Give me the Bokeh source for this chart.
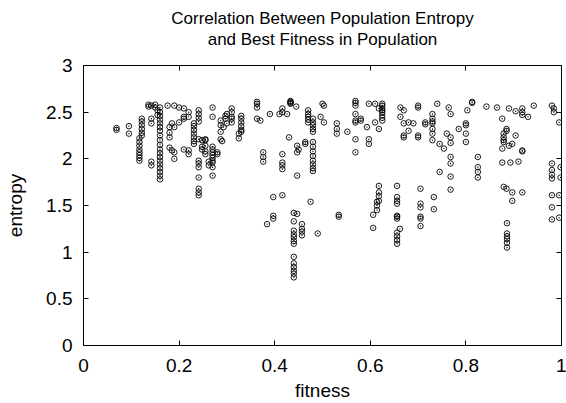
from bokeh.plotting import figure
from bokeh.models import LinearAxis, FixedTicker, Range1d, Title
from bokeh.embed import file_html
from bokeh.resources import INLINE

# fitness value of each vertical group of points, and the entropies observed there
fitness_groups = [
    0.069, 0.095, 0.117, 0.122, 0.136, 0.142, 0.150, 0.155, 0.160, 0.176,
    0.180, 0.185, 0.190, 0.200, 0.210, 0.220, 0.231, 0.241, 0.248, 0.255,
    0.262, 0.270, 0.280, 0.287, 0.290, 0.293, 0.297, 0.300, 0.310, 0.325,
    0.330, 0.363, 0.370, 0.376, 0.384, 0.390, 0.397, 0.410, 0.416, 0.426,
    0.430, 0.433, 0.440, 0.445, 0.447, 0.450, 0.457, 0.464, 0.470, 0.475,
    0.480, 0.490, 0.496, 0.500, 0.503, 0.530, 0.534, 0.552, 0.569, 0.580,
    0.593, 0.597, 0.606, 0.610, 0.614, 0.618, 0.625, 0.656, 0.662, 0.663,
    0.670, 0.680, 0.690, 0.700, 0.705, 0.715, 0.730, 0.733, 0.740, 0.745,
    0.754, 0.760, 0.764, 0.768, 0.785, 0.800, 0.803, 0.813, 0.825, 0.843,
    0.865, 0.876, 0.879, 0.885, 0.886, 0.890, 0.893, 0.897, 0.904, 0.910,
    0.918, 0.930, 0.942, 0.980, 0.984, 0.995, 0.998,
]
entropy_groups = [
    [2.33, 2.31],
    [2.35, 2.27],
    [2.22, 2.18, 2.14, 2.10, 2.07, 2.04, 2.01, 1.98],
    [2.43, 2.40, 2.36, 2.32, 2.28, 2.25],
    [2.58, 2.56],
    [2.57, 2.43, 2.38, 1.97, 1.93],
    [2.58, 2.55],
    [2.52, 2.47],
    [2.55, 2.50, 2.46, 2.42, 2.38, 2.34, 2.30, 2.25, 2.20, 2.15, 2.10, 2.06,
     2.02, 1.98, 1.94, 1.90, 1.86, 1.82, 1.78],
    [2.57],
    [2.34, 2.28, 2.23, 2.12],
    [2.09, 2.38],
    [2.57, 2.07, 2.00, 2.34],
    [2.55, 2.39],
    [2.54, 2.45, 2.43, 2.10],
    [2.50, 2.45, 2.09, 2.05],
    [2.38, 2.35, 2.31, 2.27, 2.23, 2.19, 2.16],
    [2.52, 2.48, 2.44, 2.40, 2.21, 1.98, 1.95, 1.91, 1.80, 1.68, 1.64, 1.61],
    [2.20, 2.13, 2.10],
    [2.20, 2.08, 2.05, 2.21, 2.14],
    [1.97, 1.93],
    [2.55, 2.45, 2.13, 2.10, 2.07, 2.04, 2.01, 1.98, 1.96, 1.91, 1.82],
    [2.05, 2.07],
    [2.41, 2.36, 2.29, 2.21],
    [2.19],
    [2.34],
    [2.46, 2.43],
    [2.48, 2.38],
    [2.54, 2.50, 2.45, 2.43, 2.39],
    [2.27, 2.22],
    [2.46, 2.43, 2.39, 2.35, 2.31, 2.29],
    [2.61, 2.59, 2.55, 2.43],
    [2.41],
    [2.07, 2.02, 1.97],
    [1.30],
    [2.48],
    [1.59, 1.39, 1.36],
    [2.48],
    [2.54, 2.50, 2.05, 1.96, 1.93, 1.89, 1.61],
    [2.48],
    [2.23],
    [2.62, 2.61, 2.60, 2.59],
    [1.42, 1.33, 1.23, 1.19, 1.16, 1.12, 1.09, 0.95, 0.88, 0.84, 0.80, 0.77, 0.73],
    [2.56],
    [2.14, 2.07, 1.82, 1.41],
    [2.10],
    [1.30, 1.25, 1.22, 1.18],
    [2.18, 2.16],
    [2.52, 2.48, 2.45, 2.42, 2.39],
    [1.54],
    [2.43, 2.39, 2.36, 2.32, 2.29, 2.18, 2.13, 2.08, 2.03, 1.98, 1.94, 1.90, 1.87],
    [1.20],
    [2.45],
    [2.59],
    [2.57, 2.39],
    [2.38, 2.32, 2.27],
    [1.40, 1.38],
    [2.29],
    [2.62, 2.60, 2.57, 2.48, 2.41, 2.39, 2.21, 2.07],
    [2.43, 2.41],
    [2.34],
    [2.59, 2.21, 2.16],
    [1.40, 1.26],
    [2.59, 2.39],
    [1.54, 1.50, 1.45],
    [2.54, 2.32, 1.71, 1.64, 1.60, 1.55],
    [2.59, 2.57, 2.54, 2.52, 2.50, 2.47, 2.44, 2.41],
    [1.71, 1.59, 1.55, 1.52, 1.39, 1.38, 1.36, 1.21, 1.17, 1.13, 1.09],
    [1.25],
    [2.55, 2.45],
    [2.52, 2.38, 2.25, 2.23],
    [2.39, 2.30],
    [2.38],
    [2.57, 2.55, 2.23, 2.25],
    [1.68, 1.52, 1.48, 1.38, 1.36, 1.28],
    [2.39, 2.37],
    [2.48, 2.43, 2.40, 2.38, 2.32, 2.27, 2.20],
    [1.59, 1.46],
    [2.59],
    [2.16, 1.86],
    [2.11],
    [2.27],
    [2.55],
    [2.48, 2.23, 2.17, 2.02, 1.95, 1.81, 1.67],
    [2.32],
    [2.38, 2.36, 2.27, 2.18],
    [2.52],
    [2.61, 2.60],
    [2.02, 1.91, 1.86, 1.80],
    [2.56],
    [2.55],
    [2.43, 2.11, 1.96],
    [2.27, 2.23, 2.20, 2.18, 1.70],
    [2.32, 2.30, 1.68],
    [1.31, 1.20, 1.17, 1.14, 1.10, 1.05],
    [2.54, 2.14],
    [1.96],
    [2.16, 1.64, 1.55],
    [2.51, 2.25],
    [1.97],
    [2.54, 2.50, 2.47, 2.09, 2.08, 1.64],
    [2.45],
    [2.57],
    [2.57, 1.95, 1.88, 1.83, 1.79, 1.61, 1.48, 1.35],
    [2.54, 2.50],
    [2.39, 1.61, 1.37],
    [1.91, 1.80],
]

x_ticks = [0, 0.2, 0.4, 0.6, 0.8, 1]
x_tick_labels = ["0", "0.2", "0.4", "0.6", "0.8", "1"]
y_ticks = [0, 0.5, 1, 1.5, 2, 2.5, 3]
y_tick_labels = ["0", "0.5", "1", "1.5", "2", "2.5", "3"]
title_lines = ["Correlation Between Population Entropy", "and Best Fitness in Population"]

fitness = []
entropy = []
for fx, es in zip(fitness_groups, entropy_groups):
    for e in es:
        fitness.append(fx)
        entropy.append(e)

FONT = "Liberation Sans"
TICK_FS = "19px"
LABEL_FS = "19px"

p = figure(width=566, height=403, output_backend="svg", toolbar_location=None,
           x_range=Range1d(0, 1), y_range=Range1d(0, 3),
           x_axis_label="fitness", y_axis_label="entropy")
p.min_border_left = 83
p.min_border_right = 5
p.min_border_top = 65
p.min_border_bottom = 58
p.outline_line_color = "black"
p.outline_line_width = 1
p.xgrid.visible = False
p.ygrid.visible = False
p.background_fill_color = "white"
p.border_fill_color = "white"

p.scatter(fitness, entropy, marker="circle_dot", size=5.5, fill_color=None,
          line_color="black", line_width=0.9)

def style_axis(ax, ticks, labels, show_labels=True):
    ax.ticker = FixedTicker(ticks=ticks)
    ax.major_label_overrides = {t: (l if show_labels else "") for t, l in zip(ticks, labels)}
    ax.major_tick_in = 5
    ax.major_tick_out = 0
    ax.minor_tick_in = 0
    ax.minor_tick_out = 0
    ax.axis_line_color = "black"
    ax.major_tick_line_color = "black"
    ax.major_label_text_font = FONT
    ax.major_label_text_font_size = TICK_FS if show_labels else "0px"
    ax.major_label_text_color = "black"
    ax.axis_label_text_font = FONT
    ax.axis_label_text_font_size = LABEL_FS
    ax.axis_label_text_font_style = "normal"
    ax.axis_label_text_color = "black"
    ax.axis_label_text_line_height = 1.0

style_axis(p.xaxis[0], x_ticks, x_tick_labels)
style_axis(p.yaxis[0], y_ticks, y_tick_labels)
p.xaxis[0].major_label_standoff = 13
p.xaxis[0].axis_label_standoff = 5
p.yaxis[0].major_label_standoff = 11
p.yaxis[0].axis_label_standoff = 17

# mirrored ticks on the top and right edges of the box
top = LinearAxis()
style_axis(top, x_ticks, x_tick_labels, show_labels=False)
top.major_label_standoff = 0
p.add_layout(top, "above")
right = LinearAxis()
style_axis(right, y_ticks, y_tick_labels, show_labels=False)
right.major_label_standoff = 0
p.add_layout(right, "right")

# invisible spacer between the box and the two title lines
spacer = LinearAxis(ticker=FixedTicker(ticks=[0.5]), major_label_overrides={0.5: ""},
                    major_label_text_font_size="0px", major_label_standoff=0,
                    major_tick_in=0, major_tick_out=17, minor_tick_in=0, minor_tick_out=0,
                    axis_line_alpha=0, major_tick_line_alpha=0)
p.add_layout(spacer, "above")

for line in reversed(title_lines):
    t = Title(text=line, align="center", text_font=FONT, text_font_size="17px",
              text_font_style="normal", text_color="black", standoff=0)
    p.add_layout(t, "above")

open("out.html", "w").write(file_html(p, INLINE))
